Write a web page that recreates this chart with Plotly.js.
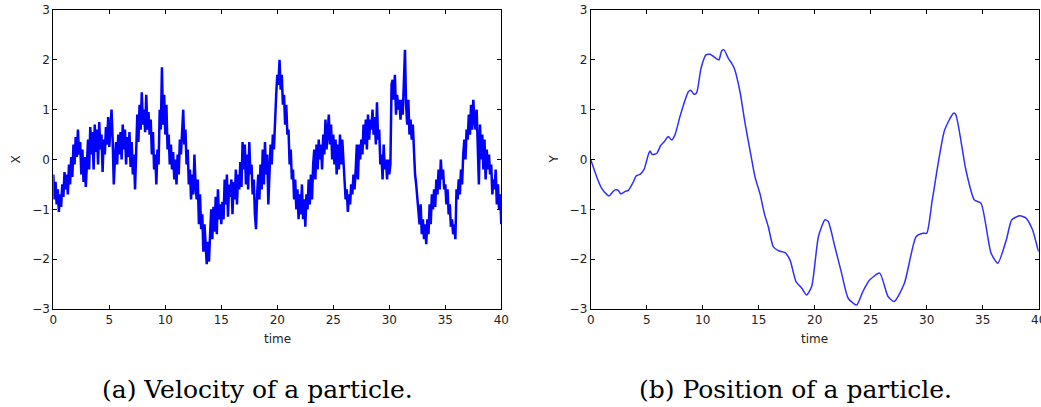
<!DOCTYPE html>
<html>
<head>
<meta charset="utf-8">
<script src="https://cdn.plot.ly/plotly-3.0.1.min.js"></script>
<style>
html,body{margin:0;padding:0;background:#fff;}
#chart{width:1041px;height:407px;}
</style>
</head>
<body>
<div id="chart"></div>
<script>
// Velocity X sampled every 0.1 time unit, t = 0 .. 40
const velocityStep = 0.1;
const velocityValues = [
-0.3,-0.8,-0.45,-0.9,-0.6,-1.05,-0.7,-0.95,-0.5,-0.75,
-0.25,-0.6,-0.3,-0.7,-0.1,-0.5,0.05,-0.35,0.3,-0.1,
0.45,0.05,0.6,0.1,0.35,-0.3,0.2,-0.45,0.05,-0.55,
-0.1,0.4,-0.2,0.65,0.1,0.55,-0.2,0.7,0.15,0.6,
-0.1,0.75,0.2,0.5,-0.25,0.4,0.1,0.65,0.3,0.85,
0.25,0.7,1.0,0.4,-0.5,0.0,0.35,-0.1,0.5,0.1,
0.55,0.0,0.7,0.2,0.6,-0.1,0.45,0.05,0.55,-0.15,
0.35,-0.3,0.1,-0.6,0.3,0.9,0.35,1.1,0.6,1.35,
0.7,1.0,0.55,1.3,0.6,0.95,0.5,0.8,0.1,0.55,
-0.2,0.1,-0.5,0.2,-0.1,1.0,0.6,1.85,0.7,1.3,
0.5,1.1,0.2,0.5,-0.1,0.3,-0.2,0.15,-0.4,0.0,
-0.5,0.1,-0.3,0.4,0.1,0.7,1.0,0.3,0.6,-0.1,
0.2,-0.5,-0.2,-0.8,-0.3,-0.7,0.1,-0.5,-0.8,-0.4,
-1.3,-0.7,-1.4,-1.1,-1.85,-1.3,-1.7,-2.1,-1.65,-2.05,
-1.5,-1.0,-1.6,-0.95,-1.45,-0.75,-1.5,-0.6,-1.2,-0.9,
-1.3,-0.85,-1.2,-0.4,-0.9,-0.3,-1.15,-0.5,-0.75,-0.4,
-1.1,-0.45,-0.8,-0.2,-0.9,-0.3,-0.6,-0.05,-0.55,0.35,
-0.2,0.3,-0.5,0.1,-0.6,0.35,-0.3,-0.1,-0.7,-0.4,
-1.1,-1.4,-0.7,-0.3,-0.8,-0.1,-0.6,0.2,-0.5,0.35,
-0.3,0.1,-0.9,-0.2,0.3,-0.1,0.5,0.2,0.9,1.3,
1.7,1.5,2.0,1.4,1.7,1.1,1.3,0.7,1.1,0.5,
0.6,-0.1,0.2,-0.4,-0.2,-0.8,-0.4,-1.0,-0.6,-1.2,
-0.7,-1.1,-0.5,-1.2,-0.8,-1.35,-0.7,-1.0,-0.4,-0.9,
-0.3,-0.8,-0.1,0.2,-0.4,0.3,-0.2,0.4,0.0,0.3,
-0.2,0.5,0.1,0.8,0.2,0.6,0.9,0.3,0.7,0.0,
0.5,-0.1,0.4,-0.3,0.3,-0.2,0.5,-0.1,0.4,0.0,
-0.5,-0.8,-0.6,-1.05,-0.7,-0.9,-0.5,-0.7,-0.3,-0.6,
-0.2,0.3,-0.4,0.3,0.0,0.4,0.1,0.7,0.3,0.8,
0.2,0.9,0.4,0.8,0.6,1.0,0.5,0.85,0.3,1.15,
0.4,0.6,-0.1,0.1,-0.4,0.3,-0.2,0.0,-0.4,0.0,
-0.3,-0.1,1.5,1.6,1.2,1.7,0.9,1.3,1.0,1.2,
0.8,1.2,0.9,1.4,2.2,1.1,0.7,1.2,0.5,0.8,
0.4,0.7,0.0,-0.3,-0.5,-0.8,-1.0,-1.3,-0.9,-1.5,
-1.2,-1.6,-1.3,-1.7,-1.2,-1.5,-0.9,-1.3,-0.7,-1.0,
-0.6,-0.95,-0.4,-0.7,-0.2,-0.6,0.0,-0.4,-0.2,-0.6,
-0.5,-0.9,-0.6,-1.1,-0.9,-1.35,-1.2,-1.5,-1.3,-1.6,
-0.6,-0.8,-0.4,-0.7,-0.2,-0.5,0.1,0.4,0.0,0.6,
0.4,0.9,0.5,1.1,0.6,1.2,0.8,0.6,1.0,0.4,
-0.5,0.7,0.0,0.5,-0.2,0.4,-0.4,0.2,-0.2,0.1,
-0.3,-0.1,-0.7,-0.4,-0.6,-0.2,-0.9,-0.5,-1.0,-0.7,
-1.3
];

// Position Y read at these times
const positionTime = [0,0.54,0.98,1.43,1.63,1.93,2.17,2.47,2.68,3.09,3.36,3.81,4.05,4.4,4.76,5.15,5.3,5.5,5.89,6.25,6.54,6.93,7.23,7.53,7.97,8.42,8.72,8.93,9.22,9.46,9.85,10.29,10.65,11.25,11.45,11.7,11.9,12.29,12.59,12.82,13.33,13.78,14.22,14.67,15.12,15.5,15.86,16.3,16.75,17.35,17.8,18.33,18.83,19.28,19.73,20.33,20.92,21.2,21.8,22.4,23.0,23.75,24.3,24.9,25.8,26.55,27.1,28.0,29.05,29.65,30.0,30.5,31.6,32.4,32.6,33.5,34.25,34.85,35.75,36.35,37.1,37.6,38.3,38.85,39.45,39.9,40];
const positionValues = [0,-0.35,-0.58,-0.70,-0.73,-0.66,-0.61,-0.62,-0.69,-0.64,-0.62,-0.45,-0.33,-0.3,-0.2,0.1,0.17,0.1,0.12,0.28,0.35,0.46,0.39,0.5,0.86,1.19,1.36,1.39,1.31,1.34,1.83,2.1,2.11,2.02,2.0,2.18,2.2,2.03,1.93,1.83,1.36,0.73,0.19,-0.35,-0.69,-1.08,-1.35,-1.75,-1.83,-1.87,-2.02,-2.45,-2.58,-2.72,-2.55,-1.55,-1.21,-1.24,-1.75,-2.28,-2.79,-2.92,-2.65,-2.42,-2.28,-2.75,-2.85,-2.49,-1.55,-1.48,-1.48,-0.81,0.59,0.93,0.9,-0.21,-0.81,-0.88,-1.88,-2.08,-1.62,-1.21,-1.13,-1.17,-1.41,-1.78,-1.85];

const xTickVals = [0,5,10,15,20,25,30,35,40];
const yTickVals = [-3,-2,-1,0,1,2,3];
const captionA = '(a) Velocity of a particle.';
const captionB = '(b) Position of a particle.';

const velocityTime = velocityValues.map((_, i) => +(i * velocityStep).toFixed(2));

const W = 1041, H = 407;
const leftDom = [53.3 / W, 501.3 / W];
const rightDom = [590.7 / W, 1038.7 / W];
const yDom = [1 - 309 / H, 1 - 10 / H];

const tickFont = {family: 'DejaVu Sans, sans-serif', size: 12, color: '#222'};
function xAx(dom, anchor) {
  return {domain: dom, anchor: anchor, range: [0, 40], tickvals: xTickVals, ticktext: xTickVals.map(String),
    ticks: 'inside', ticklen: 4, tickwidth: 1, tickcolor: '#000', showline: true, linecolor: '#000', linewidth: 1,
    mirror: 'ticks', showgrid: false, zeroline: false, tickfont: tickFont, fixedrange: true,
    ticklabeloverflow: 'allow'};
}
function yAx(anchor) {
  return {domain: yDom, anchor: anchor, range: [-3, 3], tickvals: yTickVals, ticktext: yTickVals.map(v => v < 0 ? '\u2212' + Math.abs(v) : String(v)),
    ticks: 'inside', ticklen: 4, tickwidth: 1, tickcolor: '#000', showline: true, linecolor: '#000', linewidth: 1,
    mirror: 'ticks', showgrid: false, zeroline: false, tickfont: tickFont, fixedrange: true};
}

const traces = [
  {x: velocityTime, y: velocityValues, xaxis: 'x', yaxis: 'y', mode: 'lines',
   line: {color: '#0000ff', width: 2.5}, hoverinfo: 'skip'},
  {x: positionTime, y: positionValues, xaxis: 'x2', yaxis: 'y2', mode: 'lines',
   line: {color: '#2f2fff', width: 1.5, shape: 'spline', smoothing: 0.6}, hoverinfo: 'skip'}
];

const labelFont = {family: 'DejaVu Sans, sans-serif', size: 12, color: '#222'};
const capFont = {family: 'DejaVu Serif, serif', size: 25, color: '#000'};
const annotations = [
  {text: 'time', xref: 'paper', yref: 'paper', x: (leftDom[0] + leftDom[1]) / 2, y: 1 - 339 / H, showarrow: false, font: labelFont, xanchor: 'center', yanchor: 'middle'},
  {text: 'time', xref: 'paper', yref: 'paper', x: (rightDom[0] + rightDom[1]) / 2, y: 1 - 339 / H, showarrow: false, font: labelFont, xanchor: 'center', yanchor: 'middle'},
  {text: 'X', xref: 'paper', yref: 'paper', x: 15 / W, y: 1 - 159.5 / H, showarrow: false, font: labelFont, textangle: -90, xanchor: 'center', yanchor: 'middle'},
  {text: 'Y', xref: 'paper', yref: 'paper', x: 553 / W, y: 1 - 159.5 / H, showarrow: false, font: labelFont, textangle: -90, xanchor: 'center', yanchor: 'middle'},
  {text: captionA, xref: 'paper', yref: 'paper', x: 257 / W, y: 1 - 389 / H, showarrow: false, font: capFont, xanchor: 'center', yanchor: 'middle'},
  {text: captionB, xref: 'paper', yref: 'paper', x: 795 / W, y: 1 - 389 / H, showarrow: false, font: capFont, xanchor: 'center', yanchor: 'middle'}
];

const layout = {
  width: W, height: H,
  margin: {l: 0, r: 0, t: 0, b: 0, pad: 0},
  paper_bgcolor: '#fff', plot_bgcolor: '#fff',
  showlegend: false,
  xaxis: xAx(leftDom, 'y'),
  yaxis: yAx('x'),
  xaxis2: xAx(rightDom, 'y2'),
  yaxis2: yAx('x2'),
  annotations: annotations
};

Plotly.newPlot('chart', traces, layout, {displayModeBar: false, staticPlot: true});
</script>
</body>
</html>
